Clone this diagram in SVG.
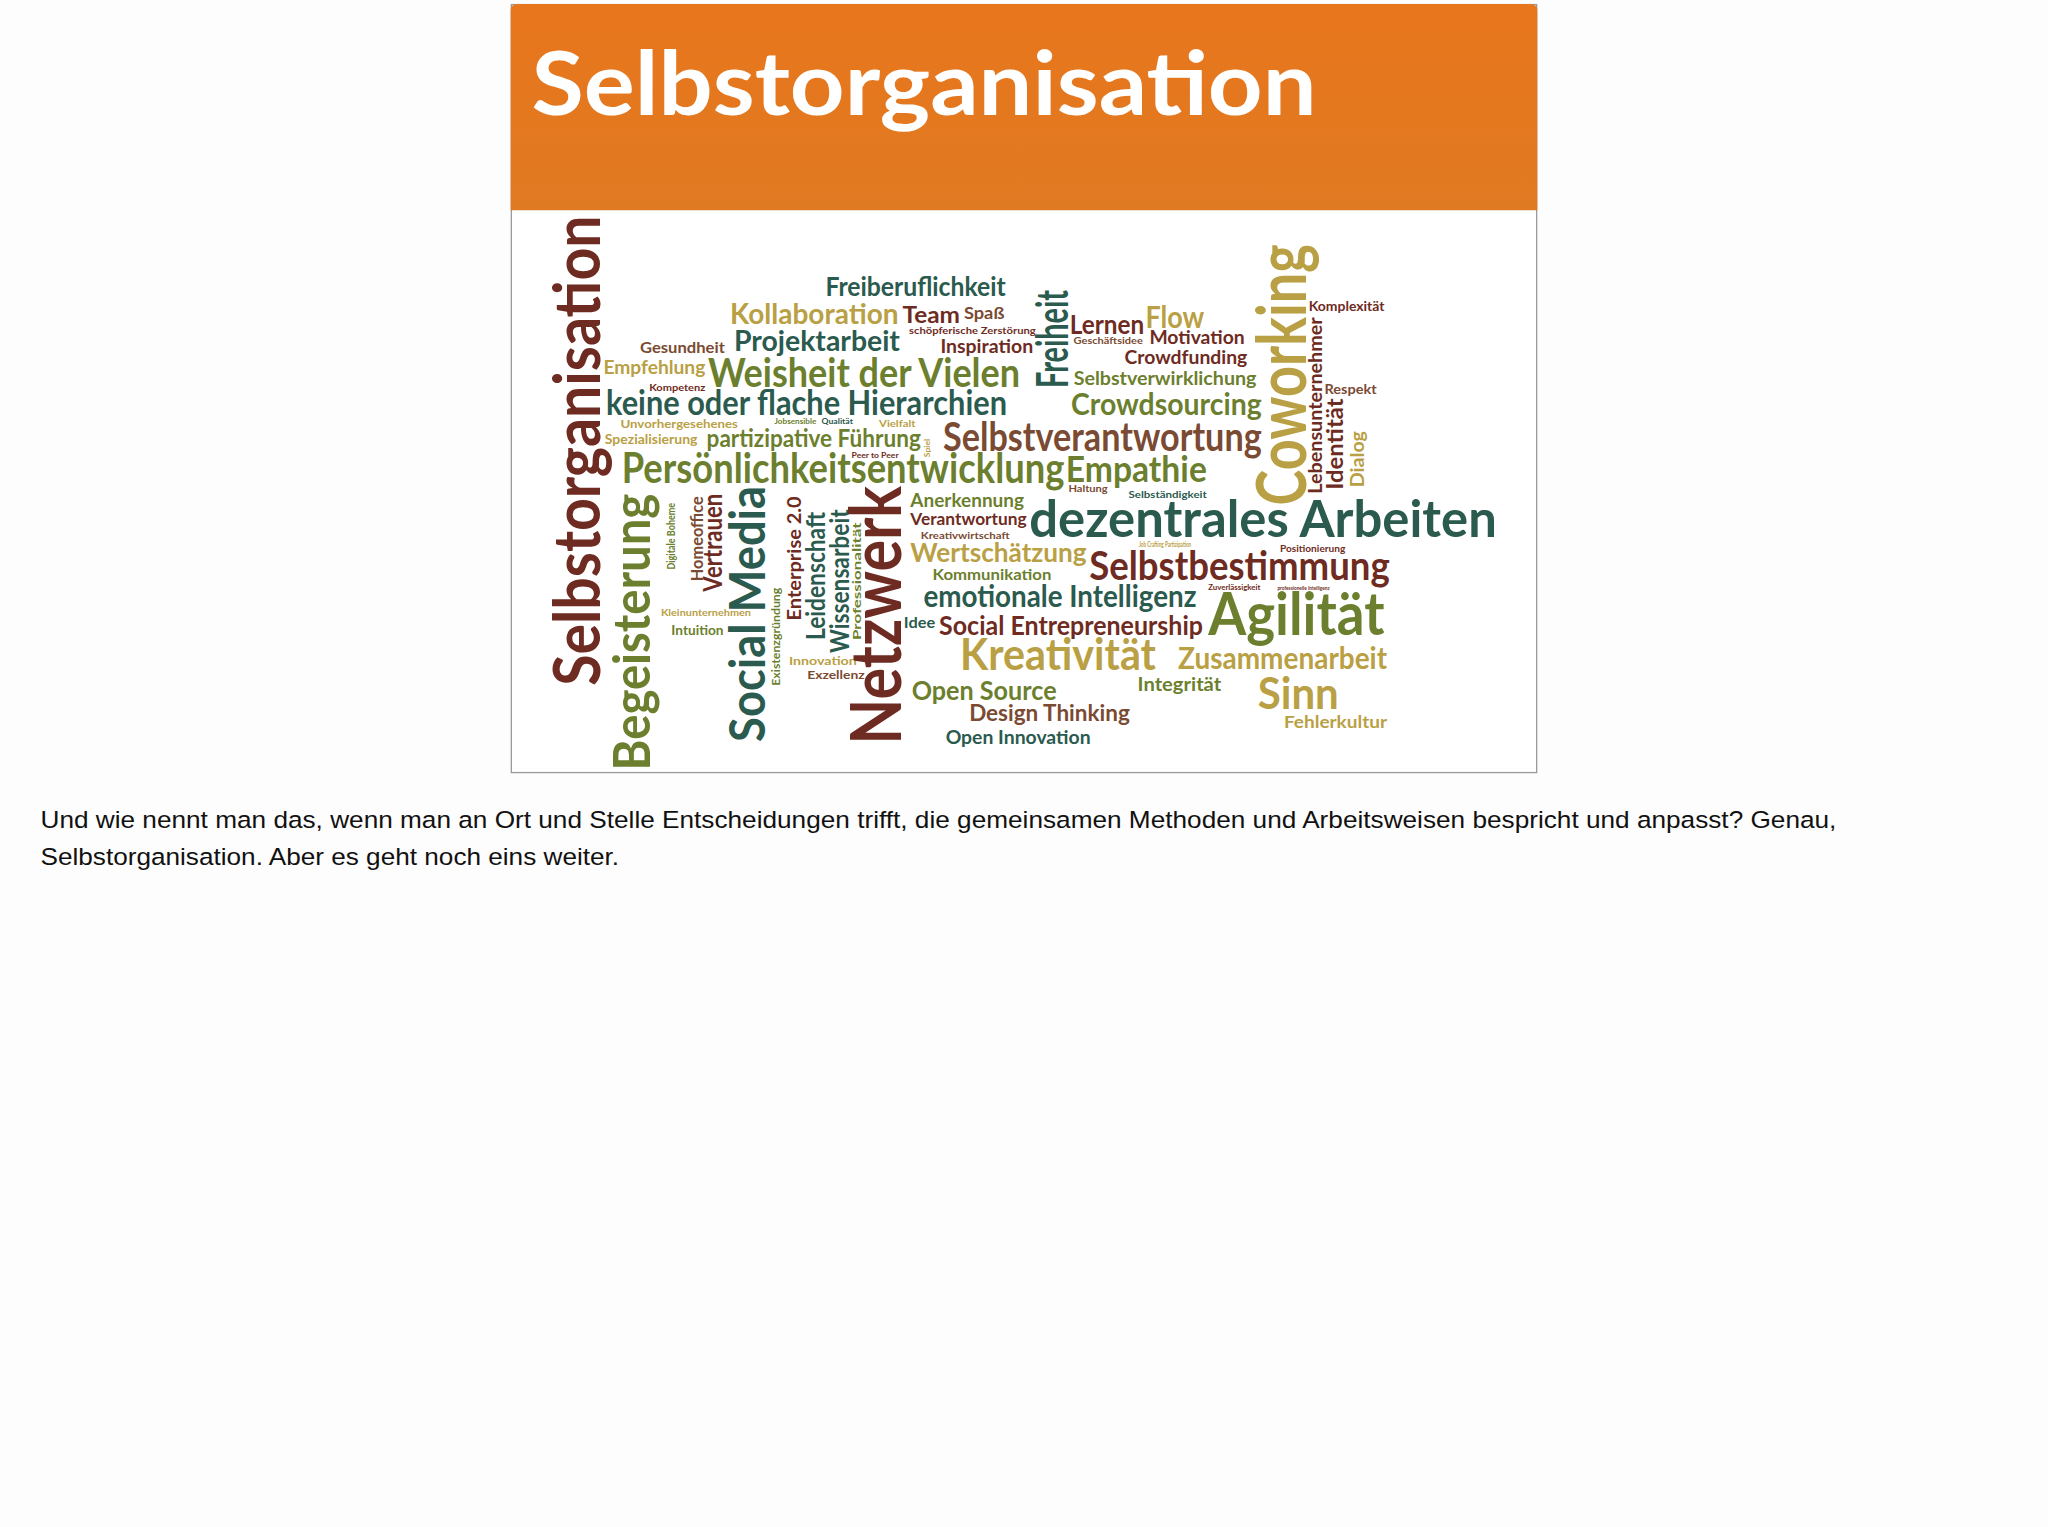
<svg xmlns="http://www.w3.org/2000/svg" width="2048" height="1527" viewBox="0 0 2048 1527">
<style>
.w{font-family:Lato,"Open Sans",sans-serif;font-weight:bold}
.r{fill:#6e2b22}.t{fill:#2b5a4e}.o{fill:#6c7f2e}.g{fill:#b9a044}.b{fill:#7a4a32}
.cap{font-family:"Liberation Sans",Arial,sans-serif;font-size:18.5px;fill:#111}
</style>
<defs><linearGradient id="hg" x1="0" y1="0" x2="0" y2="1"><stop offset="0" stop-color="#e8761c"/><stop offset="1" stop-color="#e07a22"/></linearGradient></defs>
<rect width="2048" height="1527" fill="#fdfdfd"/>
<g transform="scale(1.30612)">
<g id="slide">
<rect x="391.5" y="3.5" width="785" height="588" fill="#fff" stroke="#9a9a9a"/>
<path d="M391 161 V8 Q391 3 396 3 H1172 Q1177 3 1177 8 V161 Z" fill="url(#hg)"/>
<text x="407" y="88" font-family="Lato,sans-serif" font-weight="bold" font-size="68" fill="#fff" textLength="601" lengthAdjust="spacingAndGlyphs">Selbstorganisation</text>
</g>
<g id="cloud" class="w" lengthAdjust="spacingAndGlyphs">
<text class="t" x="632" y="227" font-size="20" textLength="138" lengthAdjust="spacingAndGlyphs">Freiberuflichkeit</text>
<text class="g" x="559" y="248" font-size="22" textLength="129" lengthAdjust="spacingAndGlyphs">Kollaboration</text>
<text class="r" x="691" y="247" font-size="18" textLength="44" lengthAdjust="spacingAndGlyphs">Team</text>
<text class="b" x="738" y="244" font-size="13" textLength="31" lengthAdjust="spacingAndGlyphs">Spaß</text>
<text class="r" x="696" y="256" font-size="7" textLength="97" lengthAdjust="spacingAndGlyphs">schöpferische Zerstörung</text>
<text class="b" x="490" y="270" font-size="12" textLength="65" lengthAdjust="spacingAndGlyphs">Gesundheit</text>
<text class="t" x="562" y="269" font-size="22" textLength="127" lengthAdjust="spacingAndGlyphs">Projektarbeit</text>
<text class="r" x="720" y="270" font-size="14" textLength="71" lengthAdjust="spacingAndGlyphs">Inspiration</text>
<text class="g" x="462" y="286" font-size="15" textLength="78" lengthAdjust="spacingAndGlyphs">Empfehlung</text>
<text class="o" x="542" y="296" font-size="30" textLength="239" lengthAdjust="spacingAndGlyphs">Weisheit der Vielen</text>
<text class="r" x="497" y="299" font-size="7" textLength="43" lengthAdjust="spacingAndGlyphs">Kompetenz</text>
<text class="t" x="464" y="318" font-size="26" textLength="307" lengthAdjust="spacingAndGlyphs">keine oder flache Hierarchien</text>
<text class="g" x="475" y="328" font-size="8" textLength="90" lengthAdjust="spacingAndGlyphs">Unvorhergesehenes</text>
<text class="o" x="593" y="325" font-size="5" textLength="32" lengthAdjust="spacingAndGlyphs">Jobsensible</text>
<text class="t" x="629" y="325" font-size="5" textLength="24" lengthAdjust="spacingAndGlyphs">Qualität</text>
<text class="g" x="673" y="327" font-size="7" textLength="28" lengthAdjust="spacingAndGlyphs">Vielfalt</text>
<text class="g" x="463" y="340" font-size="10" textLength="71" lengthAdjust="spacingAndGlyphs">Spezialisierung</text>
<text class="o" x="541" y="342" font-size="19" textLength="164" lengthAdjust="spacingAndGlyphs">partizipative Führung</text>
<text class="b" x="722" y="345" font-size="30" textLength="244" lengthAdjust="spacingAndGlyphs">Selbstverantwortung</text>
<text class="r" x="652" y="351" font-size="5" textLength="36" lengthAdjust="spacingAndGlyphs">Peer to Peer</text>
<text class="o" x="476" y="370" font-size="32" textLength="339" lengthAdjust="spacingAndGlyphs">Persönlichkeitsentwicklung</text>
<text class="o" x="816" y="369" font-size="28" textLength="108" lengthAdjust="spacingAndGlyphs">Empathie</text>
<text class="r" x="819" y="256" font-size="20" textLength="57" lengthAdjust="spacingAndGlyphs">Lernen</text>
<text class="g" x="877" y="251" font-size="24" textLength="45" lengthAdjust="spacingAndGlyphs">Flow</text>
<text class="b" x="822" y="263" font-size="7" textLength="53" lengthAdjust="spacingAndGlyphs">Geschäftsidee</text>
<text class="r" x="880" y="263" font-size="15" textLength="73" lengthAdjust="spacingAndGlyphs">Motivation</text>
<text class="r" x="861" y="279" font-size="15" textLength="94" lengthAdjust="spacingAndGlyphs">Crowdfunding</text>
<text class="o" x="822" y="295" font-size="15" textLength="140" lengthAdjust="spacingAndGlyphs">Selbstverwirklichung</text>
<text class="o" x="820" y="318" font-size="23" textLength="146" lengthAdjust="spacingAndGlyphs">Crowdsourcing</text>
<text class="r" x="1002" y="238" font-size="10" textLength="58" lengthAdjust="spacingAndGlyphs">Komplexität</text>
<text class="b" x="1014" y="302" font-size="10" textLength="40" lengthAdjust="spacingAndGlyphs">Respekt</text>
<text class="b" x="818" y="377" font-size="7" textLength="30" lengthAdjust="spacingAndGlyphs">Haltung</text>
<text class="t" x="864" y="381" font-size="7" textLength="60" lengthAdjust="spacingAndGlyphs">Selbständigkeit</text>
<text class="o" x="697" y="388" font-size="14" textLength="87" lengthAdjust="spacingAndGlyphs">Anerkennung</text>
<text class="r" x="697" y="402" font-size="13" textLength="89" lengthAdjust="spacingAndGlyphs">Verantwortung</text>
<text class="b" x="705" y="413" font-size="7" textLength="68" lengthAdjust="spacingAndGlyphs">Kreativwirtschaft</text>
<text class="t" x="788" y="411" font-size="40" textLength="358" lengthAdjust="spacingAndGlyphs">dezentrales Arbeiten</text>
<text class="g" x="872" y="419" font-size="5" textLength="40" lengthAdjust="spacingAndGlyphs">Job Crafting Partizipation</text>
<text class="r" x="980" y="423" font-size="7" textLength="50" lengthAdjust="spacingAndGlyphs">Positionierung</text>
<text class="g" x="697" y="430" font-size="20" textLength="135" lengthAdjust="spacingAndGlyphs">Wertschätzung</text>
<text class="r" x="834" y="444" font-size="30" textLength="230" lengthAdjust="spacingAndGlyphs">Selbstbestimmung</text>
<text class="o" x="714" y="444" font-size="12" textLength="91" lengthAdjust="spacingAndGlyphs">Kommunikation</text>
<text class="r" x="925" y="452" font-size="5" textLength="40" lengthAdjust="spacingAndGlyphs">Zuverlässigkeit</text>
<text class="r" x="978" y="452" font-size="4" textLength="40" lengthAdjust="spacingAndGlyphs">professionelle Intelligenz</text>
<text class="t" x="707" y="465" font-size="23" textLength="209" lengthAdjust="spacingAndGlyphs">emotionale Intelligenz</text>
<text class="o" x="925" y="486" font-size="45" textLength="135" lengthAdjust="spacingAndGlyphs">Agilität</text>
<text class="t" x="692" y="481" font-size="11" textLength="24" lengthAdjust="spacingAndGlyphs">Idee</text>
<text class="r" x="719" y="486" font-size="21" textLength="202" lengthAdjust="spacingAndGlyphs">Social Entrepreneurship</text>
<text class="g" x="735" y="513" font-size="33" textLength="150" lengthAdjust="spacingAndGlyphs">Kreativität</text>
<text class="g" x="902" y="512" font-size="23" textLength="160" lengthAdjust="spacingAndGlyphs">Zusammenarbeit</text>
<text class="g" x="506" y="472" font-size="7" textLength="69" lengthAdjust="spacingAndGlyphs">Kleinunternehmen</text>
<text class="o" x="514" y="486" font-size="10" textLength="40" lengthAdjust="spacingAndGlyphs">Intuition</text>
<text class="g" x="604" y="509" font-size="9" textLength="52" lengthAdjust="spacingAndGlyphs">Innovation</text>
<text class="b" x="618" y="520" font-size="9" textLength="44" lengthAdjust="spacingAndGlyphs">Exzellenz</text>
<text class="o" x="698" y="536" font-size="21" textLength="111" lengthAdjust="spacingAndGlyphs">Open Source</text>
<text class="o" x="871" y="529" font-size="14" textLength="64" lengthAdjust="spacingAndGlyphs">Integrität</text>
<text class="g" x="963" y="543" font-size="34" textLength="62" lengthAdjust="spacingAndGlyphs">Sinn</text>
<text class="b" x="742" y="552" font-size="18" textLength="123" lengthAdjust="spacingAndGlyphs">Design Thinking</text>
<text class="g" x="983" y="557" font-size="13" textLength="79" lengthAdjust="spacingAndGlyphs">Fehlerkultur</text>
<text class="t" x="724" y="570" font-size="15" textLength="111" lengthAdjust="spacingAndGlyphs">Open Innovation</text>
<text class="r" font-size="50" transform="translate(459,525) rotate(-90)" textLength="360" lengthAdjust="spacingAndGlyphs">Selbstorganisation</text>
<text class="o" font-size="40" transform="translate(498,590) rotate(-90)" textLength="212" lengthAdjust="spacingAndGlyphs">Begeisterung</text>
<text class="o" font-size="8" transform="translate(517,436) rotate(-90)" textLength="51" lengthAdjust="spacingAndGlyphs">Digitale Boheme</text>
<text class="b" font-size="13" transform="translate(538,445) rotate(-90)" textLength="65" lengthAdjust="spacingAndGlyphs">Homeoffice</text>
<text class="r" font-size="20" transform="translate(553,453) rotate(-90)" textLength="75" lengthAdjust="spacingAndGlyphs">Vertrauen</text>
<text class="t" font-size="38" transform="translate(586,568) rotate(-90)" textLength="196" lengthAdjust="spacingAndGlyphs">Social Media</text>
<text class="o" font-size="8" transform="translate(597,525) rotate(-90)" textLength="75" lengthAdjust="spacingAndGlyphs">Existenzgründung</text>
<text class="r" font-size="14" transform="translate(613,475) rotate(-90)" textLength="95" lengthAdjust="spacingAndGlyphs">Enterprise 2.0</text>
<text class="t" font-size="20" transform="translate(632,490) rotate(-90)" textLength="98" lengthAdjust="spacingAndGlyphs">Leidenschaft</text>
<text class="t" font-size="20" transform="translate(650,500) rotate(-90)" textLength="110" lengthAdjust="spacingAndGlyphs">Wissensarbeit</text>
<text class="o" font-size="8" transform="translate(659,490) rotate(-90)" textLength="90" lengthAdjust="spacingAndGlyphs">Professionalität</text>
<text class="r" font-size="54" transform="translate(690,570) rotate(-90)" textLength="198" lengthAdjust="spacingAndGlyphs">Netzwerk</text>
<text class="g" font-size="6" transform="translate(712,350) rotate(-90)" textLength="14" lengthAdjust="spacingAndGlyphs">Spiel</text>
<text class="t" font-size="34" transform="translate(818,297) rotate(-90)" textLength="75" lengthAdjust="spacingAndGlyphs">Freiheit</text>
<text class="g" font-size="52" transform="translate(1000,387) rotate(-90)" textLength="200" lengthAdjust="spacingAndGlyphs">Coworking</text>
<text class="r" font-size="14" transform="translate(1012,378) rotate(-90)" textLength="135" lengthAdjust="spacingAndGlyphs">Lebensunternehmer</text>
<text class="r" font-size="18" transform="translate(1028,375) rotate(-90)" textLength="70" lengthAdjust="spacingAndGlyphs">Identität</text>
<text class="g" font-size="15" transform="translate(1044,373) rotate(-90)" textLength="43" lengthAdjust="spacingAndGlyphs">Dialog</text>
</g>
<g id="caption">
<text class="cap" x="31" y="634" textLength="1375" lengthAdjust="spacingAndGlyphs">Und wie nennt man das, wenn man an Ort und Stelle Entscheidungen trifft, die gemeinsamen Methoden und Arbeitsweisen bespricht und anpasst? Genau,</text>
<text class="cap" x="31" y="662" textLength="443" lengthAdjust="spacingAndGlyphs">Selbstorganisation. Aber es geht noch eins weiter.</text>
</g>
</g>
</svg>
